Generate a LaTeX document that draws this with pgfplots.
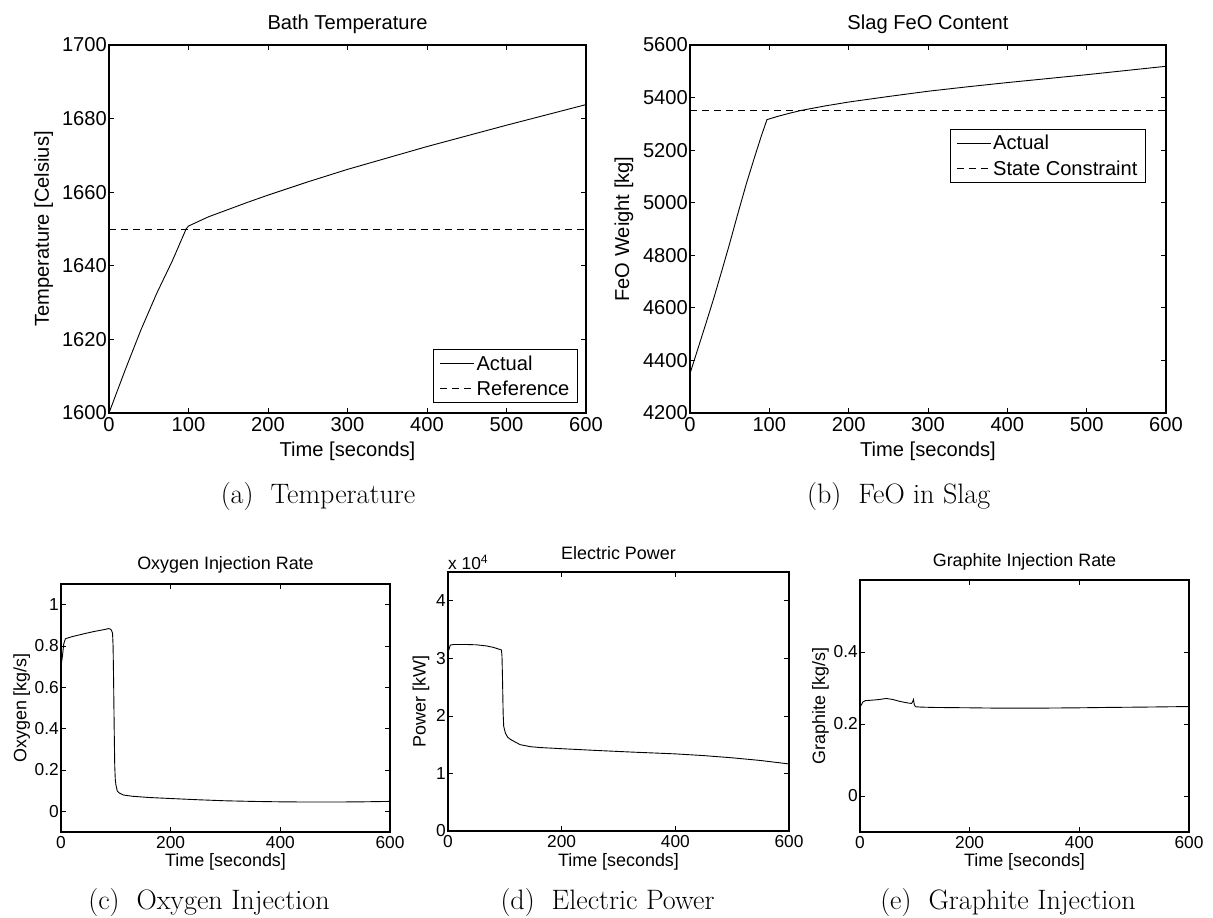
\documentclass[border=0pt]{standalone}
\usepackage{fontspec}
\usepackage{pgfplots}
\pgfplotsset{compat=1.18}
\newfontfamily\arial{Liberation Sans}
\pgfplotsset{
  mat/.style={
    scale only axis, xmin=0, xmax=600, xtick={0,100,200,300,400,500,600},
    tick align=inside, xtick pos=both, ytick pos=both,
    major tick length=5bp,
    axis line style={line width=1.1bp},
    every tick/.style={black,line width=0.7bp},
    /pgf/number format/assume math mode=true,
    /pgf/number format/set thousands separator={},
    scaled ticks=false,
    yticklabel style={inner xsep=2bp},
    xticklabel style={inner ysep=2bp, yshift=-2bp},
    legend image code/.code={\draw[#1] (0bp,0bp) -- (34bp,0bp);},
    legend cell align=left,
  },
  big/.style={mat, font=\arial\fontsize{20.2}{24}\selectfont, width=477bp, height=368bp,
    legend style={draw=black, line width=1bp, font=\arial\fontsize{20.2}{24}\selectfont,
      inner xsep=6bp, inner ysep=4bp, row sep=5bp}},
  small/.style={mat, font=\arial\fontsize{18}{21}\selectfont, xtick={0,200,400,600},
    tick label style={font=\arial\fontsize{17.4}{21}\selectfont}},
  ln/.style={black, line width=0.9bp},
  dl/.style={black, line width=0.9bp, dash pattern=on 7bp off 5bp},
}
\begin{document}
\begin{tikzpicture}
\useasboundingbox (0,0) rectangle (1213bp,918bp);

% (a) Temperature
\begin{axis}[big, at={(109bp,505bp)}, anchor=south west,
  ymin=1600, ymax=1700, ytick={1600,1620,1640,1660,1680,1700},
  title={Bath Temperature}, xlabel={Time [seconds]}, ylabel={Temperature [Celsius]},
  every axis title/.style={at={(axis description cs:0.5,1.0427)},anchor=base},
  every axis x label/.style={at={(axis description cs:0.5,-0.1182)},anchor=base},
  every axis y label/.style={at={(axis description cs:-0.1258,0.5)},rotate=90,anchor=base},
  legend style={at={(0.983,0.027)}, anchor=south east}]
\addplot[ln] coordinates {(0,1600) (20,1611.5) (40,1622.5) (60,1632.5) (80,1641.5) (97,1650) (100,1650.8) (110,1651.8) (125,1653.3) (150,1655.3) (175,1657.3) (200,1659.2) (250,1662.8) (300,1666.2) (350,1669.3) (400,1672.4) (450,1675.3) (500,1678.2) (550,1681) (600,1683.8)};
\addplot[dl] coordinates {(0,1650) (600,1650)};
\legend{Actual,Reference}
\end{axis}

% (b) FeO
\begin{axis}[big, at={(690bp,505bp)}, anchor=south west, width=476bp,
  ymin=4200, ymax=5600, ytick={4200,4400,4600,4800,5000,5200,5400,5600},
  title={Slag FeO Content}, xlabel={Time [seconds]}, ylabel={FeO Weight [kg]},
  every axis title/.style={at={(axis description cs:0.5,1.0427)},anchor=base},
  every axis x label/.style={at={(axis description cs:0.5,-0.1182)},anchor=base},
  every axis y label/.style={at={(axis description cs:-0.128,0.5)},rotate=90,anchor=base},
  legend style={at={(0.958,0.772)}, anchor=north east}]
\addplot[ln] coordinates {(0,4350) (10,4445) (20,4540) (30,4637) (40,4740) (50,4845) (60,4955) (71,5072) (80,5160) (90,5255) (97,5316) (110,5328) (125,5340) (140,5351) (170,5368) (200,5383) (250,5404) (300,5424) (350,5441) (400,5457) (450,5472) (500,5487) (550,5503) (600,5519)};
\addplot[dl] coordinates {(0,5350) (600,5350)};
\legend{Actual,State Constraint}
\end{axis}

% (c) Oxygen
\begin{axis}[small, at={(61bp,86bp)}, anchor=south west, width=329bp, height=248bp,
  ymin=-0.1, ymax=1.1, ytick={0,0.2,0.4,0.6,0.8,1},
  title={Oxygen Injection Rate}, xlabel={Time [seconds]}, ylabel={Oxygen [kg/s]},
  every axis title/.style={at={(axis description cs:0.5,1.0577)},anchor=base},
  every axis x label/.style={at={(axis description cs:0.5,-0.1387)},anchor=base},
  every axis y label/.style={at={(axis description cs:-0.1049,0.5)},rotate=90,anchor=base}]
\addplot[ln] coordinates {(0,0.77) (1.5,0.73) (3,0.76) (5,0.81) (8,0.835) (20,0.845) (40,0.858) (60,0.870) (80,0.880) (86,0.884) (90,0.882) (92,0.876) (94,0.862) (95,0.80) (96,0.62) (97,0.40) (98,0.22) (99,0.155) (100,0.13) (102.7,0.098) (106,0.089) (113.7,0.079) (130,0.073) (160,0.067) (200,0.062) (250,0.056) (300,0.051) (350,0.048) (400,0.046) (450,0.045) (500,0.045) (550,0.046) (600,0.048)};
\end{axis}

% (d) Power
\begin{axis}[small, name=d, at={(448bp,87bp)}, anchor=south west, width=341bp, height=259bp,
  ymin=0, ymax=45000, ytick={0,10000,20000,30000,40000}, yticklabels={0,1,2,3,4},
  title={Electric Power}, xlabel={Time [seconds]}, ylabel={Power [kW]},
  every axis title/.style={at={(axis description cs:0.5,1.050)},anchor=base},
  every axis x label/.style={at={(axis description cs:0.5,-0.1378)},anchor=base},
  every axis y label/.style={at={(axis description cs:-0.0657,0.5)},rotate=90,anchor=base}]
\addplot[ln] coordinates {(0,31300) (1.5,31500) (4,32300) (10,32400) (33,32400) (50,32350) (68,32150) (80,31900) (94,31450) (95,30400) (96,26000) (97,20500) (98,18200) (101,17000) (105,16300) (110,15900) (127,15000) (145,14650) (162,14500) (200,14300) (260,14000) (326,13700) (400,13400) (450,13100) (502,12700) (550,12250) (600,11650)};
\end{axis}
\node[anchor=base west, inner sep=0pt, font=\arial\fontsize{17.4}{20}\selectfont] at (448bp,348bp) {x 10\textsuperscript{4}};

% (e) Graphite
\begin{axis}[small, at={(860bp,86bp)}, anchor=south west, width=329bp, height=252bp,
  ymin=-0.1, ymax=0.6, ytick={0,0.2,0.4},
  title={Graphite Injection Rate}, xlabel={Time [seconds]}, ylabel={Graphite [kg/s]},
  every axis title/.style={at={(axis description cs:0.5,1.0543)},anchor=base},
  every axis x label/.style={at={(axis description cs:0.5,-0.1375)},anchor=base},
  every axis y label/.style={at={(axis description cs:-0.1064,0.5)},rotate=90,anchor=base}]
\addplot[ln] coordinates {(0,0.250) (2,0.252) (5,0.261) (10,0.265) (20,0.266) (35,0.268) (48,0.271) (52,0.270) (60,0.268) (72,0.263) (85,0.259) (94,0.257) (96,0.262) (97.5,0.268) (99,0.254) (101,0.248) (110,0.247) (133,0.246) (200,0.245) (255,0.244) (320,0.244) (401,0.245) (450,0.246) (520,0.247) (600,0.2485)};
\end{axis}

% captions
\begin{scope}[font=\fontsize{28.2}{32}\selectfont]
\node[anchor=base] at (318bp,414.7bp) {(a)\ \ Temperature};
\node[anchor=base] at (898.7bp,414.7bp) {(b)\ \ FeO in Slag};
\node[anchor=base] at (209bp,8.7bp) {(c)\ \ Oxygen Injection};
\node[anchor=base] at (607.5bp,8.7bp) {(d)\ \ Electric Power};
\node[anchor=base] at (1008bp,8.7bp) {(e)\ \ Graphite Injection};
\end{scope}
\end{tikzpicture}
\end{document}
